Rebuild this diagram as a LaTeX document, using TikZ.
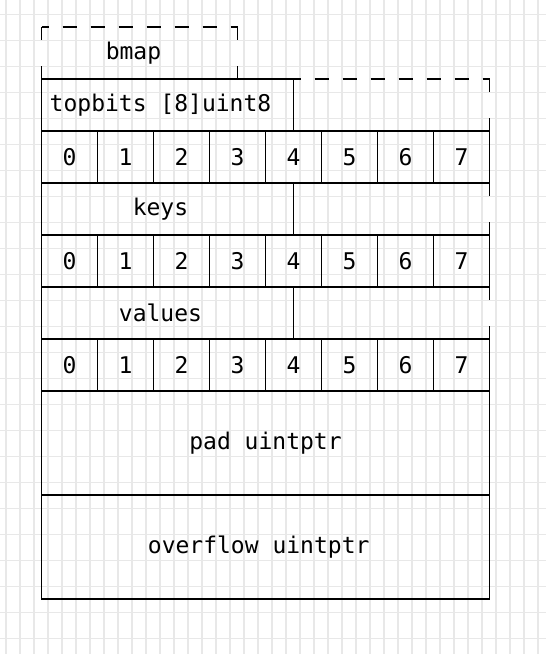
\documentclass[tikz,border=0pt]{standalone}
\usepackage{fontspec}
\setmonofont{DejaVu Sans Mono}
\usetikzlibrary{positioning}
\usepackage{xcolor}
\definecolor{gridgray}{HTML}{E8E8E8}

\begin{document}
\begin{tikzpicture}[x=1pt, y=1pt, font=\ttfamily\fontsize{11.5}{14}\selectfont]

	\tikzstyle{gridline}=[draw=gridgray, line width=0.75pt];
	\tikzstyle{field}=[draw, rectangle, line width=0.9pt, inner sep=0pt, outer sep=0pt, minimum height=26pt];
	\tikzstyle{cell}=[field, minimum width=28pt];
	\tikzstyle{open}=[rectangle, inner sep=0pt, outer sep=0pt, minimum height=26pt];
	\tikzstyle{fieldlabel}=[inner sep=0pt, xshift=-3.5pt];
	\tikzstyle{hdash}=[line width=0.9pt, dash pattern=on 7pt off 7pt, dash phase=3.5pt];
	\tikzstyle{vdash}=[line width=0.9pt, dash pattern=on 6.5pt off 13pt];

	\useasboundingbox (0,0) rectangle (273,-327);
	\foreach \x in {0,...,38} \draw[gridline] (3+7*\x,0) -- (3+7*\x,-327);
	\foreach \y in {0,...,24} \draw[gridline] (0,-7.15-13*\y) -- (273,-7.15-13*\y);

	\begin{scope}

		\node (topbits) at (20.75,-39.5) [field, anchor=north west, minimum width=126pt]{};
		\node (topbitstext) at (topbits) [fieldlabel]{topbits [8]uint8};
		\node (topbitsrest) [open, right=0pt of topbits, minimum width=98pt]{};
		\node (bmap) [open, above right=0pt of topbits.north west, minimum width=98pt]{};
		\node (bmaptext) at (bmap) [fieldlabel, xshift=0.5pt]{bmap};

		\node (tb0) [cell, below right=0pt of topbits.south west]{0};
		\foreach \i [count=\j from 0] in {1,...,7}
			\node (tb\i) [cell, right=0pt of tb\j]{\i};

		\node (keys) [field, below right=0pt of tb0.south west, minimum width=126pt]{};
		\node (keystext) at (keys) [fieldlabel]{keys};
		\node (keysrest) [open, right=0pt of keys, minimum width=98pt]{};

		\node (ky0) [cell, below right=0pt of keys.south west]{0};
		\foreach \i [count=\j from 0] in {1,...,7}
			\node (ky\i) [cell, right=0pt of ky\j]{\i};

		\node (values) [field, below right=0pt of ky0.south west, minimum width=126pt]{};
		\node (valuestext) at (values) [fieldlabel]{values};
		\node (valuesrest) [open, right=0pt of values, minimum width=98pt]{};

		\node (vl0) [cell, below right=0pt of values.south west]{0};
		\foreach \i [count=\j from 0] in {1,...,7}
			\node (vl\i) [cell, right=0pt of vl\j]{\i};

		\node (pad) [field, below right=0pt of vl0.south west, minimum width=224pt, minimum height=52pt]{pad uintptr};
		\node (overflow) [field, below=0pt of pad, minimum width=224pt, minimum height=52pt]{};
		\node (overflowtext) at (overflow) [fieldlabel, xshift=0.1pt]{overflow uintptr};

		\draw[hdash] (bmap.north west) -- (bmap.north east);
		\draw[vdash] (bmap.north west) -- (bmap.south west);
		\draw[vdash] (bmap.north east) -- (bmap.south east);
		\draw[hdash] (topbitsrest.north west) -- (topbitsrest.north east);
		\draw[vdash] (topbitsrest.north east) -- (topbitsrest.south east);
		\draw[vdash] (keysrest.north east) -- (keysrest.south east);
		\draw[vdash] (valuesrest.north east) -- (valuesrest.south east);

	\end{scope}
\end{tikzpicture}
\end{document}
